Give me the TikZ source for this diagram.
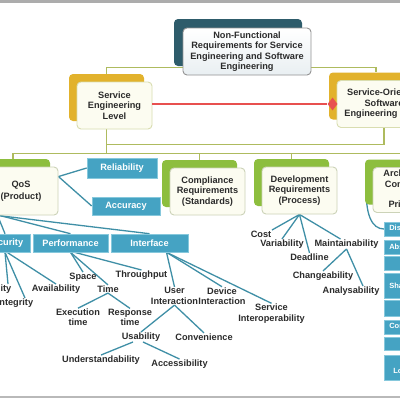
\documentclass[tikz,border=0pt]{standalone}
\usepackage{fontspec}
\setmainfont{Liberation Sans}
\usetikzlibrary{calc,shapes.geometric,shadows}
\pgfdeclarelayer{background}
\pgfsetlayers{background,main}
\definecolor{tealdark}{HTML}{2E5C6B}
\definecolor{gold}{HTML}{E2B22C}
\definecolor{leafgreen}{HTML}{8DBE3E}
\definecolor{olive}{HTML}{AEBB5E}
\definecolor{treeblue}{HTML}{3F8FA6}
\definecolor{boxblue}{HTML}{45A3C3}
\definecolor{boxblueline}{HTML}{86C8DC}
\definecolor{redline}{HTML}{E8504F}
\definecolor{txt}{HTML}{2B2B2B}
\definecolor{cream}{HTML}{FCFCF1}
\definecolor{creamline}{HTML}{D9DDB0}
\definecolor{greenline}{HTML}{CCD3B8}
\definecolor{topgrad}{HTML}{E9EFF2}
\tikzset{
  fnt/.style={font=\bfseries\fontsize{9.2}{10.4}\selectfont, text=txt},
  topbox/.style={fnt, draw=gray!85, line width=0.9, top color=white, bottom color=topgrad,
    rounded corners=4, minimum width=128, minimum height=47, inner sep=0, align=center,
    general shadow={fill=tealdark, shadow xshift=-9pt, shadow yshift=9pt}},
  lvtwo/.style={fnt, draw=creamline, line width=0.9, fill=cream, rounded corners=4,
    minimum width=75, minimum height=47, inner sep=0, align=center,
    general shadow={fill=gold, shadow xshift=-8pt, shadow yshift=8pt}},
  lvthree/.style={fnt, draw=greenline, line width=0.9, fill=cream, rounded corners=4,
    minimum width=75, minimum height=47, inner sep=0, align=center,
    general shadow={fill=leafgreen, shadow xshift=-8pt, shadow yshift=8pt}},
  bluebox/.style={font=\bfseries\fontsize{9.2}{10.4}\selectfont, text=white, fill=boxblue,
    draw=boxblueline, line width=0.6, minimum height=18, inner sep=0, align=center},
  sbox/.style={font=\bfseries\fontsize{7.5}{8.5}\selectfont, text=white, fill=boxblue,
    draw=boxblueline, line width=0.6, text width=80, inner xsep=5, inner ysep=0,
    align=left, anchor=west},
  leaf/.style={fnt, inner sep=0.5pt, align=center},
  tree/.style={draw=treeblue, line width=1.3},
  olv/.style={draw=olive, line width=1.3},
}
\begin{document}
\begin{tikzpicture}[x=1pt,y=-1pt]
\useasboundingbox (0,0) rectangle (400,400);
% main boxes
\node[topbox] (top) at (247,51.5) {Non-Functional\\Requirements for Service\\Engineering and Software\\Engineering};
\node[lvtwo] (sel) at (114.5,105.5) {Service\\Engineering\\Level};
\node[lvtwo, minimum width=94] (sose) at (384,104) {Service-Oriented\\Software\\Engineering Level};
\node[lvthree, minimum width=74, minimum height=48] (qos) at (21,191) {QoS\\[2pt](Product)};
\node[lvthree] (comp) at (207.5,191.5) {Compliance\\Requirements\\(Standards)};
\node[lvthree] (dev) at (299.5,190.5) {Development\\Requirements\\(Process)};
\node[lvthree, minimum height=45] (arch) at (410.5,190) {Architecture\\Constraints\\and\\Principles};
% blue boxes
\node[bluebox, minimum width=70, minimum height=20] (rel) at (122,168) {Reliability};
\node[bluebox, minimum width=68] (acc) at (126,206) {Accuracy};
\node[bluebox, minimum width=50] (sec) at (5,243) {Security};
\node[bluebox, minimum width=75] (perf) at (70.5,243) {Performance};
\node[bluebox, minimum width=77] (intf) at (149.5,243) {Interface};
% right column
\node[sbox, minimum height=14] (b1) at (384,229) {Discoverability};
\node[sbox, minimum height=14] (b2) at (384,247) {Abstraction};
\node[sbox, minimum height=14] (b3) at (384,263) {};
\node[sbox, minimum height=25] (b4) at (384,285.5) {Shared Contract};
\node[sbox, minimum height=16] (b5) at (384,308) {};
\node[sbox, minimum height=14] (b6) at (384,327) {Composability};
\node[sbox, minimum height=13] (b7) at (384,343.5) {};
\node[sbox, minimum height=25] (b8) at (384,367.5) {\hspace*{12pt}Service\\\hspace*{4pt}Loose Coupling};
% leaves
\node[leaf, anchor=east] (conf) at (12,289) {Confidentiality};
\node[leaf] (integ) at (15,303) {Integrity};
\node[leaf] (avail) at (56,289) {Availability};
\node[leaf] (space) at (83,277) {Space};
\node[leaf] (time) at (108,289) {Time};
\node[leaf] (thr) at (141.5,275) {Throughput};
\node[leaf] (exec) at (78,317.5) {Execution\\time};
\node[leaf] (resp) at (130,317.5) {Response\\time};
\node[leaf] (uint) at (174.5,296) {User\\Interaction};
\node[leaf] (dint) at (222,296) {Device\\Interaction};
\node[leaf] (sint) at (271.5,313.5) {Service\\Interoperability};
\node[leaf] (usab) at (141,337) {Usability};
\node[leaf] (conv) at (204,337) {Convenience};
\node[leaf] (und) at (101,360) {Understandability};
\node[leaf] (acc2) at (179.5,364) {Accessibility};
\node[leaf] (cost) at (261,234) {Cost};
\node[leaf] (var) at (282,244) {Variability};
\node[leaf] (dead) at (309.5,257) {Deadline};
\node[leaf] (maint) at (346.5,244) {Maintainability};
\node[leaf] (chg) at (323,276) {Changeability};
\node[leaf] (ana) at (351,291) {Analysability};
% red link
\node[diamond, fill=redline, inner sep=0, minimum width=10, minimum height=13] (dia) at ($(sose.west)+(-4,0)$) {};
\draw[redline, line width=2] (sel.east |- dia) -- (dia);
\begin{pgfonlayer}{background}
\fill[white] (0,0) rectangle (400,400);
\fill[gray!65] (0,0) rectangle (400,2.5);
\fill[gray!55] (0,395.5) rectangle (400,398);
% olive connectors
\draw[olv] ($(sel.north)+(-8,-8)$) |- ($(top.south)+(0,-8)$) -| ($(sose.north)+(-8,-8)$);
\draw[olv] ($(sel.south)+(-8,-8)$) -- ($(sel.south)+(-8,24)$);
\draw[olv] (sose.south) |- ($(sel.south)+(-8,15)$);
\draw[olv] ($(qos.north)+(-8,-8)$) |- ($(sel.south)+(-8,24)$) -| ($(arch.north)+(-8,-8)$);
\draw[olv] ($(comp.north)+(-8,-8)$) |- ($(sel.south)+(-8,24)$);
\draw[olv] ($(dev.north)+(-8,-8)$) |- ($(sel.south)+(-8,24)$);
% tree connectors
\draw[tree] ($(qos.north east)+(0,10)$) -- (rel.west);
\draw[tree] ($(qos.north east)+(0,10)$) -- (acc.west);
\draw[tree] ($(qos.south west)+(14,0)$) -- (sec.north);
\draw[tree] ($(qos.south west)+(16,0)$) -- (perf.north);
\draw[tree] ($(qos.south west)+(14,0)$) -- (intf.north);
\draw[tree] (sec.south) -- ($(conf.north east)+(-4,0)$);
\draw[tree] (sec.south) -- ($(integ.north)+(10,0)$);
\draw[tree] ($(sec.south)+(2,0)$) -- (avail.north);
\draw[tree] (perf.south) -- (space.north);
\draw[tree] (perf.south) -- (time.north);
\draw[tree] ($(perf.south)+(4,0)$) -- (thr.north);
\draw[tree] ($(intf.south)+(17,0)$) -- (uint.north);
\draw[tree] ($(intf.south)+(17,0)$) -- (dint.north);
\draw[tree] ($(intf.south)+(17,0)$) -- (sint.north);
\draw[tree] (time.south) -- (exec.north);
\draw[tree] (time.south) -- (resp.north);
\draw[tree] (uint.south) -- (usab.north);
\draw[tree] (uint.south) -- (conv.north);
\draw[tree] ($(usab.south)+(-8,0)$) -- (und.north);
\draw[tree] ($(usab.south)+(2,0)$) -- (acc2.north);
\draw[tree] (dev.south) -- (cost.north east);
\draw[tree] (dev.south) -- (var.north);
\draw[tree] (dev.south) -- (dead.north);
\draw[tree] (dev.south) -- ($(maint.north)+(-6,0)$);
\draw[tree] (maint.south) -- (chg.north);
\draw[tree] (maint.south) -- ($(ana.north)+(12,0)$);
\draw[tree] ($(arch.west)+(-6,-8)$) .. controls ($(arch.west)+(-8,25)$) and ($(b1.west)+(-12,0)$) .. (b1.west);
\end{pgfonlayer}
\end{tikzpicture}
\end{document}
